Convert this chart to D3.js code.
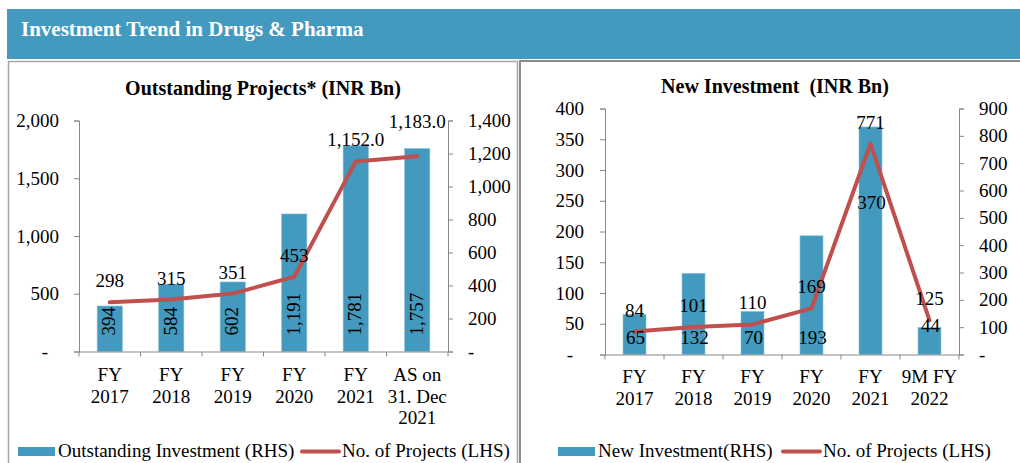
<!DOCTYPE html>
<html><head><meta charset="utf-8">
<script src="https://cdn.jsdelivr.net/npm/d3@7/dist/d3.min.js"></script>
<style>
html,body{margin:0;padding:0;background:#fff;}
svg{display:block;font-family:"Liberation Serif","Times New Roman",serif;}
</style></head>
<body><svg id="c" width="1020" height="463"></svg>
<script>
// ---- data ----
const leftCategories = [["FY","2017"],["FY","2018"],["FY","2019"],["FY","2020"],["FY","2021"],["AS on","31. Dec","2021"]];
const outstandingInvestment = [394, 584, 602, 1191, 1781, 1757];
const outstandingProjects = [298, 315, 351, 453, 1152, 1183];
const leftAxisTicks = [0, 500, 1000, 1500, 2000];
const leftRightAxisTicks = [0, 200, 400, 600, 800, 1000, 1200, 1400];

const rightCategories = [["FY","2017"],["FY","2018"],["FY","2019"],["FY","2020"],["FY","2021"],["9M FY","2022"]];
const newInvestment = [65, 132, 70, 193, 370, 44];
const newProjects = [84, 101, 110, 169, 771, 125];
const rightAxisTicks = [0, 50, 100, 150, 200, 250, 300, 350, 400];
const rightRightAxisTicks = [0, 100, 200, 300, 400, 500, 600, 700, 800, 900];

const BLUE = "#4399BE", RED = "#C0504D", AXIS = "#888888";
const FS = 19;
const svg = d3.select("#c");
const fmtAxis = d => d === 0 ? "-" : d3.format(",")(d);

// header
svg.append("rect").attr("x",7).attr("y",9).attr("width",1013).attr("height",50).attr("fill",BLUE);
svg.append("text").attr("x",21).attr("y",35.5).attr("fill","#fff").attr("font-weight","bold")
  .attr("font-size",21).text("Investment Trend in Drugs & Pharma");

// panels
svg.append("path").attr("d","M8.5,470V61.5H517.5V470").attr("fill","none").attr("stroke","#A6A6A6").attr("stroke-width",1.5);
svg.append("path").attr("d","M520,470V61H1021").attr("fill","none").attr("stroke","#8C8C8C").attr("stroke-width",2);

function drawChart(cfg){
  const g = svg.append("g");
  const x = d3.scaleBand().domain(d3.range(cfg.cats.length)).range([cfg.x0, cfg.x1])
    .paddingInner(cfg.padIn).paddingOuter(cfg.padIn/2);
  const yL = d3.scaleLinear().domain([0, cfg.lMax]).range([cfg.y0, cfg.y1]);
  const yR = d3.scaleLinear().domain([0, cfg.rMax]).range([cfg.y0, cfg.y1]);
  const step = x.step();

  // title
  g.append("text").attr("x",cfg.titleX).attr("y",cfg.titleY).attr("text-anchor","middle")
    .attr("font-weight","bold").attr("font-size",20).style("white-space","pre").text(cfg.title);

  // bars
  g.selectAll("rect.bar").data(cfg.bars).join("rect").attr("class","bar")
    .attr("x",(d,i)=>x(i)).attr("width",x.bandwidth())
    .attr("y",d=>yL(d)).attr("height",d=>cfg.y0-yL(d)).attr("fill",BLUE)
    .attr("stroke","#8DC0D8").attr("stroke-width",0.6);

  // axes
  const axL = d3.axisLeft(yL).tickValues(cfg.lTicks).tickSize(5).tickFormat(fmtAxis);
  const axR = d3.axisRight(yR).tickValues(cfg.rTicks).tickSize(5).tickFormat(fmtAxis);
  const gl = g.append("g").attr("transform",`translate(${cfg.x0},0)`).call(axL);
  const gr = g.append("g").attr("transform",`translate(${cfg.x1},0)`).call(axR);
  [gl,gr].forEach(a=>{
    a.select(".domain").attr("stroke",AXIS);
    a.selectAll(".tick line").attr("stroke",AXIS);
    a.selectAll(".tick text").attr("font-size",FS).attr("font-family","Liberation Serif").attr("fill","#000");
  });
  gl.selectAll(".tick text").attr("x",d=> d===0 ? -cfg.lLabelGap-11 : -cfg.lLabelGap);
  gr.selectAll(".tick text").attr("x",cfg.rLabelGap);

  // category axis
  g.append("line").attr("x1",cfg.x0).attr("x2",cfg.x1).attr("y1",cfg.y0+0.5).attr("y2",cfg.y0+0.5).attr("stroke",AXIS);
  g.selectAll("line.ct").data(d3.range(cfg.cats.length+1)).join("line").attr("class","ct")
    .attr("x1",i=>cfg.x0+i*step).attr("x2",i=>cfg.x0+i*step)
    .attr("y1",cfg.y0).attr("y2",cfg.y0+5).attr("stroke",AXIS);
  const ct = g.selectAll("text.cat").data(cfg.cats).join("text").attr("class","cat")
    .attr("text-anchor","middle").attr("font-size",FS);
  ct.each(function(lines,i){
    const t = d3.select(this);
    lines.forEach((s,k)=>t.append("tspan").attr("x",x(i)+x.bandwidth()/2).attr("y",cfg.catY+k*21.5).text(s));
  });

  // line
  const line = d3.line().x((d,i)=>x(i)+x.bandwidth()/2).y(d=>yR(d));
  g.append("path").datum(cfg.line).attr("d",line).attr("fill","none").attr("stroke",RED)
    .attr("stroke-width",4).attr("stroke-linejoin","round").attr("stroke-linecap","round");

  // labels
  cfg.drawBarLabels(g, x, yL);
  g.selectAll("text.ll").data(cfg.line).join("text").attr("class","ll")
    .attr("text-anchor","middle").attr("font-size",FS)
    .attr("x",(d,i)=>x(i)+x.bandwidth()/2+ (cfg.lineLabelDx[i]||0))
    .attr("y",(d,i)=>yR(d)-15+(cfg.lineLabelDy[i]||0)).text(cfg.lineFmt);

  // legend
  const lg = g.append("g");
  lg.append("rect").attr("x",cfg.legX).attr("y",447).attr("width",37).attr("height",9).attr("fill",BLUE);
  lg.append("text").attr("x",cfg.legX+40).attr("y",457).attr("font-size",FS).text(cfg.legBar);
  lg.append("line").attr("x1",cfg.legX2).attr("x2",cfg.legX2+37).attr("y1",451.5).attr("y2",451.5)
    .attr("stroke",RED).attr("stroke-width",4).attr("stroke-linecap","round");
  lg.append("text").attr("x",cfg.legX2+40).attr("y",457).attr("font-size",FS).text(cfg.legLine);
}

// left chart
drawChart({
  cats: leftCategories, bars: outstandingInvestment, line: outstandingProjects,
  x0: 79, x1: 448, y0: 351.5, y1: 120.5, padIn: 0.59,
  lMax: 2000, rMax: 1400, lTicks: leftAxisTicks, rTicks: leftRightAxisTicks,
  lLabelGap: 20, rLabelGap: 20,
  title: "Outstanding Projects* (INR Bn)", titleX: 263, titleY: 95,
  catY: 381,
  lineFmt: d => d >= 1000 ? d3.format(",.1f")(d) : d3.format(",")(d),
  lineLabelDx: {}, lineLabelDy: {5: -13},
  drawBarLabels: (g, x, yL) => {
    g.selectAll("text.bl").data(outstandingInvestment).join("text").attr("class","bl")
      .attr("font-size",FS).attr("text-anchor","start").attr("dy","0.35em")
      .attr("transform",(d,i)=>`translate(${x(i)+x.bandwidth()/2-1},${yL(0)-16}) rotate(-90)`)
      .text(d3.format(","));
  },
  legX: 18, legBar: "Outstanding Investment (RHS)", legX2: 302, legLine: "No. of Projects (LHS)"
});

// right chart
drawChart({
  cats: rightCategories, bars: newInvestment, line: newProjects,
  x0: 605, x1: 959, y0: 354.5, y1: 108.5, padIn: 0.61,
  lMax: 400, rMax: 900, lTicks: rightAxisTicks, rTicks: rightRightAxisTicks,
  lLabelGap: 21, rLabelGap: 20,
  title: "New Investment  (INR Bn)", titleX: 775, titleY: 93,
  catY: 383,
  lineFmt: d3.format(","),
  lineLabelDx: {}, lineLabelDy: {},
  drawBarLabels: (g, x, yL) => {
    const shift = {4: -135, 5: -12};
    g.selectAll("text.bl").data(newInvestment).join("text").attr("class","bl")
      .attr("font-size",FS).attr("text-anchor","middle")
      .attr("x",(d,i)=>x(i)+x.bandwidth()/2+1)
      .attr("y",(d,i)=>yL(0)-11+(shift[i]||0))
      .text(d3.format(","));
  },
  legX: 558, legBar: "New Investment(RHS)", legX2: 783, legLine: "No. of Projects (LHS)"
});
</script></body></html>
